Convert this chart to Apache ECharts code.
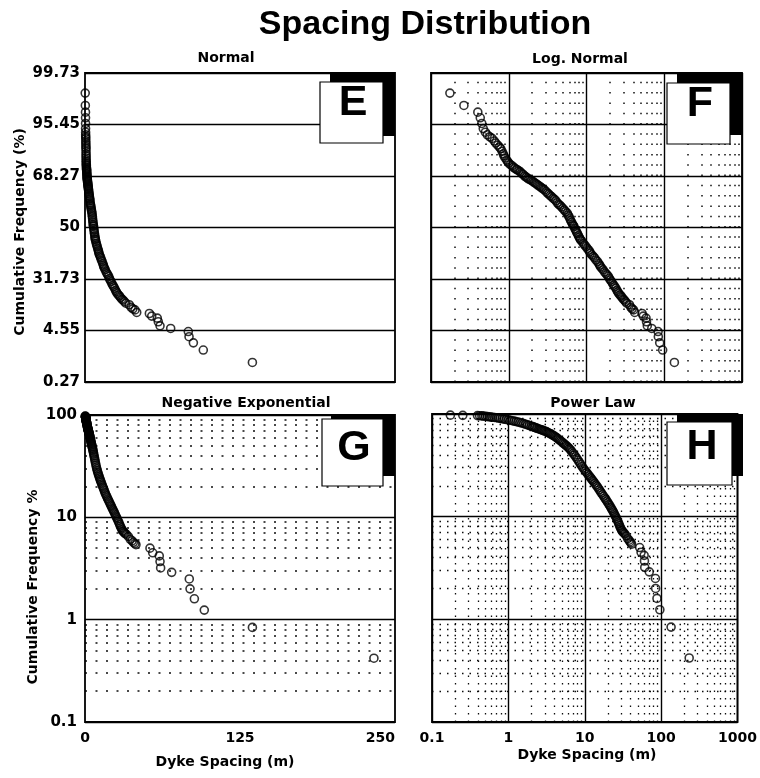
<!DOCTYPE html>
<html><head><meta charset="utf-8">
<script src="https://cdn.jsdelivr.net/npm/echarts@6/dist/echarts.min.js"></script>
<style>html,body{margin:0;padding:0;background:#fff}#c{width:760px;height:778px}</style>
</head><body><div id="c"></div>
<script>
// Probability-axis tick labels for sigma -3..3
const sigmaLabels = ['0.27','4.55','31.73','50','68.27','95.45','99.73'];
const linearTicks = [0, 125, 250];
// minor grid values for log axes
const logMinorX = [0.2,0.3,0.4,0.5,0.6,0.7,0.8,0.9,2,3,4,5,6,7,8,9,20,30,40,50,60,70,80,90,200,300,400,500,600,700,800,900];
const logMinorY = [0.2,0.3,0.4,0.5,0.6,0.7,0.8,0.9,2,3,4,5,6,7,8,9,20,30,40,50,60,70,80,90];

// Normal / Log-normal plots: [dyke spacing (m), standard normal position (sigma)]
const normalData = [
[0.175,2.61],[0.265,2.37],[0.40,2.24],[0.43,2.13],[0.45,2.02],[0.47,1.92],[0.50,1.85],[0.53,1.80],[0.57,1.76],[0.61,1.73],
[0.65,1.68],[0.68,1.64],[0.72,1.60],[0.76,1.56],[0.79,1.53],[0.82,1.48],[0.85,1.43],[0.87,1.39],[0.90,1.35],[0.94,1.31],
[0.97,1.28],[1.00,1.25],[1.05,1.22],[1.10,1.20],[1.15,1.17],[1.20,1.15],[1.25,1.13],[1.29,1.12],[1.35,1.10],[1.41,1.08],
[1.47,1.05],[1.53,1.03],[1.60,1.00],[1.67,0.98],[1.74,0.96],[1.81,0.94],[1.89,0.93],[1.97,0.91],[2.06,0.89],[2.15,0.87],
[2.24,0.85],[2.34,0.83],[2.44,0.81],[2.55,0.79],[2.65,0.77],[2.76,0.75],[2.88,0.73],[3.01,0.70],[3.14,0.67],[3.27,0.65],
[3.41,0.62],[3.55,0.60],[3.70,0.57],[3.86,0.55],[4.03,0.52],[4.21,0.48],[4.38,0.45],[4.57,0.43],[4.76,0.40],[4.96,0.37],
[5.17,0.34],[5.39,0.31],[5.65,0.28],[5.80,0.24],[5.96,0.21],[6.12,0.17],[6.28,0.13],[6.45,0.10],[6.62,0.06],[6.76,0.04],
[6.90,0.02],[7.08,-0.02],[7.27,-0.05],[7.46,-0.09],[7.66,-0.12],[7.87,-0.16],[8.08,-0.19],[8.25,-0.22],[8.40,-0.24],[8.75,-0.27],
[9.10,-0.31],[9.45,-0.34],[9.85,-0.37],[10.25,-0.41],[10.7,-0.44],[11.0,-0.47],[11.2,-0.50],[11.7,-0.53],[12.2,-0.56],[12.7,-0.59],
[13.2,-0.63],[13.8,-0.66],[14.4,-0.70],[14.8,-0.73],[15.1,-0.76],[15.7,-0.79],[16.3,-0.82],[17.0,-0.86],[17.7,-0.89],[18.4,-0.92],
[19.1,-0.95],[19.7,-0.99],[20.3,-1.02],[21.0,-1.05],[21.7,-1.09],[22.4,-1.12],[23.1,-1.15],[23.9,-1.18],[24.6,-1.22],[25.3,-1.25],
[26.0,-1.28],[26.9,-1.31],[27.8,-1.33],[28.7,-1.36],[29.7,-1.39],[30.7,-1.41],[31.8,-1.44],[32.9,-1.47],[35.7,-1.50],[37.2,-1.55],
[38.6,-1.58],[40.3,-1.60],[41.7,-1.65],[51.9,-1.67],[53.8,-1.72],[58.3,-1.76],[59.1,-1.83],[60.5,-1.91],[69.1,-1.96],[83.3,-2.02],
[83.9,-2.12],[87.4,-2.24],[95.4,-2.38],[135,-2.62]
];

// Negative exponential / Power law plots: [dyke spacing (m), cumulative frequency %]
const expData = [
[0.174,97.5],[0.253,97],[0.394,96.5],[0.42,96.2],[0.45,95.8],[0.47,95.5],[0.50,95.0],[0.53,94.5],[0.56,94.0],[0.59,93.5],
[0.62,93.0],[0.66,92.5],[0.70,92.0],[0.74,91.3],[0.78,90.6],[0.83,89.8],[0.88,89.0],[0.94,88.3],[1.00,87.6],[1.06,86.8],
[1.12,86.0],[1.19,85.2],[1.26,84.4],[1.34,83.5],[1.42,82.6],[1.50,81.6],[1.59,80.6],[1.68,79.5],[1.78,78.4],[1.89,77.2],
[2.00,76.0],[2.08,75.3],[2.16,74.5],[2.24,73.8],[2.33,73.0],[2.42,72.2],[2.52,71.5],[2.62,70.7],[2.72,70.0],[2.83,69.3],
[2.94,68.6],[3.06,67.9],[3.18,67.0],[3.30,66.0],[3.43,65.0],[3.56,64.0],[3.70,63.0],[3.85,62.0],[4.00,61.0],[4.15,59.8],
[4.31,58.5],[4.48,57.2],[4.65,55.9],[4.83,54.7],[5.02,53.4],[5.21,52.2],[5.41,51.0],[5.62,49.8],[5.84,48.6],[6.06,47.3],
[6.29,46.0],[6.53,44.6],[6.78,43.0],[7.04,41.4],[7.31,39.9],[7.59,38.4],[7.88,36.9],[8.18,35.4],[8.49,33.9],[8.82,32.4],
[9.16,31.0],[9.51,29.8],[9.88,28.7],[10.25,27.7],[10.6,26.8],[11.0,25.9],[11.4,25.0],[11.8,24.2],[12.2,23.4],[12.6,22.7],
[13.0,22.0],[13.5,21.2],[14.0,20.4],[14.5,19.7],[15.0,19.0],[15.5,18.3],[16.0,17.6],[16.5,17.0],[17.1,16.4],[17.7,15.8],
[18.3,15.2],[18.9,14.7],[19.5,14.2],[20.1,13.7],[20.7,13.2],[21.3,12.8],[21.9,12.3],[22.5,11.9],[23.1,11.5],[23.7,11.1],
[24.3,10.7],[24.9,10.3],[25.5,9.95],[26.1,9.6],[26.7,9.25],[27.3,8.9],[27.9,8.55],[28.5,8.2],[29.1,7.9],[29.7,7.65],
[30.3,7.4],[30.9,7.25],[31.6,7.1],[32.4,6.95],[33.4,6.8],[34.9,6.5],[36.5,6.1],[38.0,5.9],[39.0,5.7],[40.2,5.55],
[41.1,5.4],[52.4,5.0],[54.6,4.5],[59.9,4.2],[60.5,3.7],[61,3.2],[69.9,2.9],[84.1,2.5],[84.7,2.0],[88.2,1.6],
[96.2,1.24],[135,0.84],[233,0.42]
];

const FT = '"DejaVu Sans"';
const HT = '"Liberation Sans"';
const chart = echarts.init(document.getElementById('c'), null, {renderer: 'canvas'});

const gridBase = {show: true, borderColor: '#000', borderWidth: 1.8, backgroundColor: '#fff', containLabel: false};
const solid = {show: true, lineStyle: {color: '#000', width: 1.4, type: 'solid'}};
const yLab = {show: true, color: '#000', fontFamily: FT, fontWeight: 'bold', fontSize: 15};
const xLab = {show: true, color: '#000', fontFamily: FT, fontWeight: 'bold', fontSize: 14, margin: 9, formatter: v => String(v)};
const hidden = {show: false};

const sym = {symbol: 'circle', symbolSize: 8, itemStyle: {color: 'rgba(255,255,255,0)', borderColor: '#000', borderWidth: 1.6}};

function dotted(data, dash, width) {
  return {
    silent: true, z: 1, symbol: ['none', 'none'], animation: false,
    label: {show: false},
    lineStyle: {color: '#000', width: width, type: dash, opacity: 0.95},
    emphasis: {disabled: true},
    data: data
  };
}

function box(x, y, w, h, sx, sy, sw, sh, letter, lx, ly) {
  return [
    {type: 'rect', z: 100, shape: {x: sx, y: sy, width: sw, height: sh}, style: {fill: '#000'}},
    {type: 'rect', z: 101, shape: {x: x, y: y, width: w, height: h}, style: {fill: '#fff', stroke: '#000', lineWidth: 1.2}},
    {type: 'text', z: 102, x: lx, y: ly, style: {text: letter, font: 'bold 43px ' + HT, fill: '#000', align: 'center', verticalAlign: 'middle'}}
  ];
}

function txt(s, x, y, size, rot, fam) {
  return {type: 'text', z: 110, x: x, y: y, rotation: rot || 0,
    style: {text: s, font: 'bold ' + size + 'px ' + (fam || FT), fill: '#000', align: 'center', verticalAlign: 'middle'}};
}

const option = {
  animation: false,
  backgroundColor: '#fff',
  grid: [
    Object.assign({left: 85, top: 73, width: 310, height: 309}, gridBase),
    Object.assign({left: 431, top: 73, width: 311, height: 309}, gridBase),
    Object.assign({left: 85, top: 415, width: 310, height: 307}, gridBase),
    Object.assign({left: 432, top: 414, width: 311, height: 308}, gridBase)
  ],
  xAxis: [
    {gridIndex: 0, type: 'value', min: linearTicks[0], max: linearTicks[2], interval: 125,
     axisLine: hidden, axisTick: hidden, axisLabel: hidden, splitLine: hidden},
    {gridIndex: 1, type: 'log', logBase: 10, min: 0.1, max: 1000,
     axisLine: hidden, axisTick: hidden, axisLabel: hidden, splitLine: solid},
    {gridIndex: 2, type: 'value', min: linearTicks[0], max: linearTicks[2], interval: 125,
     axisLine: hidden, axisTick: hidden, splitLine: hidden,
     axisLabel: Object.assign({}, xLab, {alignMaxLabel: 'right'})},
    {gridIndex: 3, type: 'log', logBase: 10, min: 0.1, max: 1000,
     axisLine: hidden, axisTick: hidden, splitLine: solid, axisLabel: xLab}
  ],
  yAxis: [
    {gridIndex: 0, type: 'value', min: -3, max: 3, interval: 1,
     axisLine: hidden, axisTick: hidden, splitLine: solid,
     axisLabel: Object.assign({}, yLab, {margin: 5, formatter: v => sigmaLabels[Math.round(v) + 3]})},
    {gridIndex: 1, type: 'value', min: -3, max: 3, interval: 1,
     axisLine: hidden, axisTick: hidden, splitLine: solid, axisLabel: hidden},
    {gridIndex: 2, type: 'log', logBase: 10, min: 0.1, max: 100,
     axisLine: hidden, axisTick: hidden, splitLine: solid,
     axisLabel: Object.assign({}, yLab, {margin: 8, formatter: v => String(v)})},
    {gridIndex: 3, type: 'log', logBase: 10, min: 0.1, max: 100,
     axisLine: hidden, axisTick: hidden, splitLine: solid, axisLabel: hidden}
  ],
  series: [
    Object.assign({type: 'scatter', xAxisIndex: 0, yAxisIndex: 0, data: normalData, z: 3}, sym),
    Object.assign({type: 'scatter', xAxisIndex: 1, yAxisIndex: 1, data: normalData, z: 3,
      markLine: dotted(logMinorX.map(v => ({xAxis: v})), [1.5, 8.8], 1.5)}, sym),
    Object.assign({type: 'scatter', xAxisIndex: 2, yAxisIndex: 2, data: expData, z: 3,
      markLine: dotted(logMinorY.map(v => ({yAxis: v})), [2, 8.5], 1.5)}, sym),
    Object.assign({type: 'scatter', xAxisIndex: 3, yAxisIndex: 3, data: expData, z: 3,
      markLine: dotted(logMinorX.map(v => ({xAxis: v})).concat(logMinorY.map(v => ({yAxis: v}))), [1.5, 6], 1.3)}, sym)
  ],
  graphic: [
    txt('Spacing Distribution', 425, 25, 34, 0, HT),
    txt('Normal', 226, 58, 14),
    txt('Log. Normal', 580, 59, 14),
    txt('Negative Exponential', 246, 403, 14),
    txt('Power Law', 593, 403, 14),
    txt('Cumulative Frequency (%)', 20, 232, 14, Math.PI / 2),
    txt('Cumulative Frequency %', 33, 587, 14, Math.PI / 2),
    txt('Dyke Spacing (m)', 225, 762, 14),
    txt('Dyke Spacing (m)', 587, 755, 14)
  ].concat(
    box(320, 82, 63, 61, 330, 73, 65, 63, 'E', 353, 103),
    box(667, 83, 63, 61, 677, 73, 65, 62, 'F', 700, 104),
    box(322, 419, 61, 67, 331, 415, 64, 61, 'G', 354, 448),
    box(667, 422, 65, 63, 677, 414, 66, 62, 'H', 702, 447)
  )
};
chart.setOption(option);
</script>
</body></html>
